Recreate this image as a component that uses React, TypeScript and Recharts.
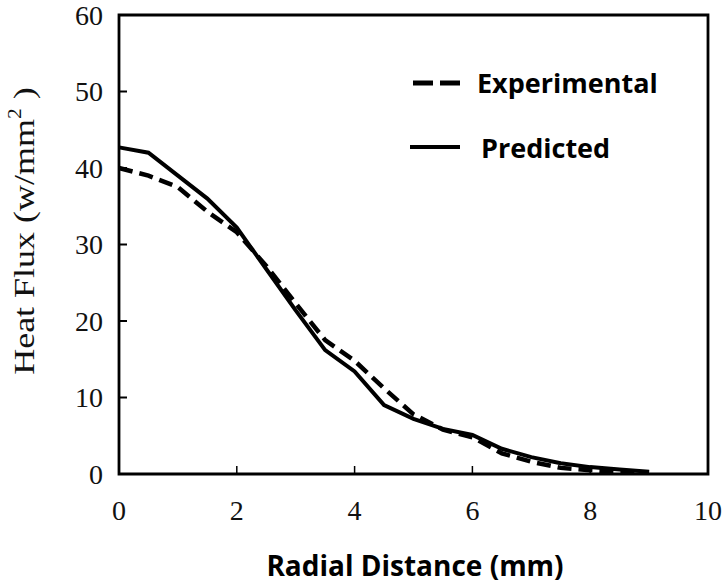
import { LineChart, Line, XAxis, YAxis, ReferenceArea } from "recharts";

const radius = [0, 0.5, 1, 1.5, 2, 2.5, 3, 3.5, 4, 4.5, 5, 5.5, 6, 6.5, 7, 7.5, 8, 8.5, 9];
const predicted = [42.7, 42.0, 39.0, 36.0, 32.2, 26.8, 21.4, 16.2, 13.4, 9.0, 7.2, 5.9, 5.1, 3.3, 2.2, 1.4, 0.9, 0.6, 0.3];
const experimental = [40.0, 39.0, 37.5, 34.3, 31.6, 27.2, 22.3, 17.5, 14.8, 11.2, 7.8, 5.8, 4.8, 2.7, 1.6, 0.8, 0.5, 0.3, 0.2];
const xTicks = [0, 2, 4, 6, 8, 10];
const yTicks = [0, 10, 20, 30, 40, 50, 60];

const data = radius.map((r, i) => ({ r, predicted: predicted[i], experimental: experimental[i] }));

const W = 725;
const H = 587;
const LEFT = 119;
const TOP = 15;
const RIGHT = 17;
const BOTTOM = 113;
const plotBottom = H - BOTTOM;

const serif = "'Liberation Serif', 'Times New Roman', serif";
const sans = "'Open Sans', 'Noto Sans', sans-serif";

const YTick = (props: any) => {
  const { y, payload } = props;
  const v = payload.value;
  return (
    <g>
      {v !== 0 && v !== 60 && <line x1={LEFT} x2={LEFT + 8} y1={y} y2={y} stroke="#000" strokeWidth={2} />}
      <text x={103} y={y} dy={9.5} textAnchor="end" fontFamily={serif} fontSize={28} fill="#111">
        {v}
      </text>
    </g>
  );
};

const XTick = (props: any) => {
  const { x, payload } = props;
  const v = payload.value;
  return (
    <g>
      {v !== 0 && v !== 10 && <line x1={x} x2={x} y1={plotBottom} y2={plotBottom - 8} stroke="#000" strokeWidth={1.5} />}
      <text x={x} y={plotBottom + 46} textAnchor="middle" fontFamily={serif} fontSize={28} fill="#111">
        {v}
      </text>
    </g>
  );
};

const LegendBox = () => (
  <svg width={290} height={110} style={{ position: "absolute", left: 410, top: 65 }}>
    <line x1={3} x2={50} y1={18} y2={18} stroke="#000" strokeWidth={5} strokeDasharray="20 7" />
    <text x={67} y={28} fontFamily={sans} fontWeight={700} fontSize={27} fill="#000">Experimental</text>
    <line x1={0} x2={50} y1={82} y2={82} stroke="#000" strokeWidth={4} />
    <text x={71} y={93} fontFamily={sans} fontWeight={700} fontSize={27} fill="#000">Predicted</text>
  </svg>
);

export default function App() {
  return (
    <div style={{ position: "absolute", left: 0, top: 0, width: W, height: H, background: "#fff" }}>
      <LineChart width={W} height={H} data={data} margin={{ top: TOP, right: RIGHT, bottom: 0, left: 0 }}>
        <XAxis
          dataKey="r"
          type="number"
          domain={[0, 10]}
          ticks={xTicks}
          height={BOTTOM}
          axisLine={false}
          tickLine={false}
          tick={<XTick />}
          label={{
            content: () => (
              <text x={415} y={576} textAnchor="middle" fontFamily={sans} fontWeight={700} fontSize={28} fill="#000">
                Radial Distance (mm)
              </text>
            ),
          }}
        />
        <YAxis
          type="number"
          domain={[0, 60]}
          ticks={yTicks}
          width={LEFT}
          axisLine={false}
          tickLine={false}
          tick={<YTick />}
          label={{
            content: () => (
              <text
                transform="translate(27 231) rotate(-90) scale(1.2 1)"
                textAnchor="middle"
                dominantBaseline="middle"
                fontFamily={serif}
                fontSize={30}
                fill="#111"
              >
                Heat Flux (w/mm<tspan dy={-11} fontSize={18}>2</tspan>
                <tspan dy={11}> )</tspan>
              </text>
            ),
          }}
        />
        <ReferenceArea x1={0} x2={10} y1={0} y2={60} fill="none" stroke="#000" strokeWidth={2.8} ifOverflow="visible" />
        <Line
          dataKey="experimental"
          type="linear"
          stroke="#000"
          strokeWidth={4.5}
          strokeDasharray="14 7"
          dot={false}
          isAnimationActive={false}
        />
        <Line dataKey="predicted" type="linear" stroke="#000" strokeWidth={4} dot={false} isAnimationActive={false} />
      </LineChart>
      <LegendBox />
    </div>
  );
}
